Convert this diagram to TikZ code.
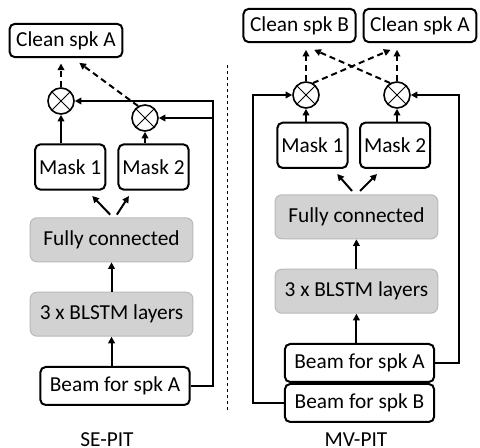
\documentclass[tikz,border=0pt]{standalone}
\usepackage{fontspec}
\setmainfont{Carlito}
\usepackage{tikz}
\usetikzlibrary{arrows.meta,positioning}
\tikzset{>/.tip={Triangle[length=5pt,width=5pt]}}
\tikzset{box/.style={draw,line width=1.5pt,rounded corners=4pt,inner xsep=5pt,inner ysep=0pt,minimum height=25pt}}
\tikzset{beam/.style={box,minimum width=112pt,minimum height=28.5pt}}
\tikzset{mask/.style={box,inner xsep=3pt,minimum height=34pt}}
\tikzset{layer/.style={draw=gray!55,fill=gray!35,line width=0.75pt,rounded corners=5pt,minimum width=122pt,minimum height=33pt}}
\tikzset{mult/.style={circle,draw,line width=1.2pt,minimum size=19.5pt,inner sep=0pt,
    path picture={\draw[line width=0.6pt] (path picture bounding box.north west) -- (path picture bounding box.south east)
      (path picture bounding box.north east) -- (path picture bounding box.south west);}}}
\tikzset{perm/.style={->,line width=1.5pt,dash pattern=on 4.5pt off 3pt}}

\begin{document}
\begin{tikzpicture}[x=0.75pt,y=-0.75pt,font=\fontsize{16}{19}\selectfont,line width=1.5pt]
      \useasboundingbox (0,0) rectangle (480,448);

      % SE-PIT
      \node[beam](beamL) at (115,386) {Beam for spk A};
      \node[layer,above=22pt of beamL,xshift=-2.6pt](blstmL){3 x BLSTM layers};
      \node[layer,above=22pt of blstmL](fcL){Fully connected};
      \node[mask,above=20pt of fcL,xshift=-31pt](maskL1){Mask 1};
      \node[mask,above=20pt of fcL,xshift=31.5pt](maskL2){Mask 2};
      \node[mult](mL1) at (61,101) {};
      \node[mult](mL2) at (145,118) {};
      \node[box](cleanL) at (66,40.5) {Clean spk A};
      \coordinate(railL) at (213,101);
      \node(seLabel) at (107,440) {SE-PIT};

      \draw[->] (blstmL.south |- beamL.north) -- (blstmL.south);
      \draw[->] (blstmL.north) -- (fcL.south);
      \draw[->] ([xshift=-1pt,yshift=2pt]fcL.north) -- ([xshift=-10.5pt,yshift=-4pt]maskL1.south east);
      \draw[->] ([xshift=4pt,yshift=2pt]fcL.north) -- ([xshift=8.6pt,yshift=-4pt]maskL2.south west);
      \draw[->] (mL1 |- maskL1.north) -- (mL1);
      \draw[->] (mL2 |- maskL2.north) -- (mL2);
      \draw[->] (beamL.east) -| (railL) -- (mL1);
      \draw[->] (railL |- mL2) -- (mL2);
      \draw[perm] (mL1) -- ([yshift=-4pt]mL1 |- cleanL.south);
      \draw[perm] (mL2.120) -- ([xshift=10pt,yshift=-3.5pt]cleanL.south);

      % separator
      \draw[line width=0.6pt,dash pattern=on 2.5pt off 2pt] (227,65) -- (227,412);

      % MV-PIT
      \node[beam](beamRA) at (359.5,363) {Beam for spk A};
      \node[beam,below=0pt of beamRA](beamRB){Beam for spk B};
      \node[layer,above=22pt of beamRA,xshift=-2.3pt](blstmR){3 x BLSTM layers};
      \node[layer,above=22pt of blstmR](fcR){Fully connected};
      \node[mask,above=19pt of fcR,xshift=-33pt](maskR1){Mask 1};
      \node[mask,above=19pt of fcR,xshift=29pt](maskR2){Mask 2};
      \node[mult](mR1) at (306,95) {};
      \node[mult](mR2) at (397,95) {};
      \node[box](cleanRB) at (299.5,25.5) {Clean spk B};
      \node[box](cleanRA) at (420,25.5) {Clean spk A};
      \coordinate(railR1) at (253,95);
      \coordinate(railR2) at (459,95);
      \node(mvLabel) at (356,440) {MV-PIT};

      \draw[->] (blstmR.south |- beamRA.north) -- (blstmR.south);
      \draw[->] (blstmR.north) -- (fcR.south);
      \draw[->] ([xshift=-3.3pt,yshift=2.5pt]fcR.north) -- ([xshift=-8.5pt,yshift=-3.75pt]maskR1.south east);
      \draw[->] ([xshift=2.7pt,yshift=2.5pt]fcR.north) -- ([xshift=13.5pt,yshift=-3.75pt]maskR2.south west);
      \draw[->] (mR1 |- maskR1.north) -- (mR1);
      \draw[->] (mR2 |- maskR2.north) -- (mR2);
      \draw[->] (beamRB.west) -| (railR1) -- (mR1);
      \draw[->] (beamRA.east) -| (railR2) -- (mR2);
      \draw[perm] (mR1) -- ([yshift=-5pt]mR1 |- cleanRB.south);
      \draw[perm] (mR2) -- ([yshift=-5pt]mR2 |- cleanRA.south);
      \draw[perm] (mR1.60) -- ([xshift=21pt,yshift=-5pt]cleanRA.south west);
      \draw[perm] (mR2.120) -- ([xshift=11pt,yshift=-5pt]cleanRB.south);
    \end{tikzpicture}
\end{document}
